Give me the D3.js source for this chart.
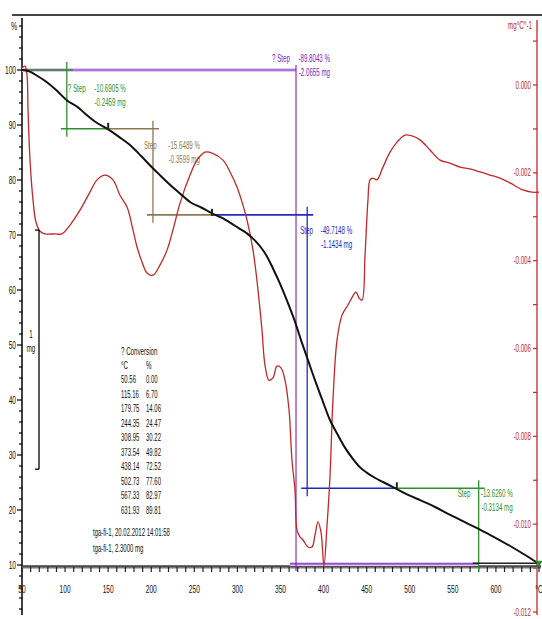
<!DOCTYPE html>
<html><head><meta charset="utf-8">
<script src="https://cdn.jsdelivr.net/npm/d3@7"></script>
<style>
html,body{margin:0;padding:0;background:#fff;}
svg{display:block;}
text{font-family:"Liberation Sans",Arial,sans-serif;}
</style></head><body>
<svg id="chart" width="542" height="619"></svg>
<script>
// TGA curve: temperature (°C) and remaining mass (%)
const tgaTemp = [50,55,59,67,77,90,102,115,123,135,150,163,175,188,199,210,222,233,245,258,271,281,291,301,311,319,326,334,341,349,358,366,374,382,390,399,407,416,425,434,442,450,458,470,485,500,512,530,547,565,582,600,616,632,648];
const tgaMass = [100,99.9,99.7,99.0,98.0,96.3,94.5,93.2,92.1,90.6,89.2,87.8,86.4,84.4,82.6,80.9,79.1,77.6,76.0,75.0,73.9,73.2,72.3,71.3,70.3,69.2,68.0,66.2,64.0,61.3,57.9,54.6,50.8,47.2,43.6,39.8,36.5,33.8,31.3,29.3,27.8,26.8,26.0,25.0,23.8,22.6,21.8,20.5,19.1,17.7,16.4,14.9,13.5,12.0,10.4];

// DTG curve: temperature (°C) and rate (mg/°C)
const dtgTemp = [50.0,53.5,55.8,57.0,59.3,62.8,66.2,70.9,76.7,88.3,96.4,105.7,117.3,128.9,137.0,146.3,155.6,163.7,171.9,178.8,183.5,189.3,195.1,202.0,210.1,218.3,225.2,233.4,245.0,253.1,262.4,270.5,283.3,291.4,299.5,305.3,311.1,318.1,323.9,328.5,332.0,336.6,341.3,345.9,350.6,355.2,359.9,363.3,366.8,369.1,372.6,376.1,381.9,386.5,390.0,393.5,397.0,400.4,403.9,407.4,410.9,415.6,421.4,428.3,434.1,437.6,441.1,444.6,448.1,451.5,453.9,457.3,462.0,468.9,477.1,485.2,494.5,502.6,511.9,523.5,535.1,546.7,558.3,569.9,581.5,593.1,604.7,616.3,631.4,641.9,650.0];
const dtgRate = [0.39e-3,0.43e-3,0.23e-3,-0.57e-3,-1.71e-3,-2.62e-3,-3.12e-3,-3.33e-3,-3.39e-3,-3.39e-3,-3.39e-3,-3.19e-3,-2.85e-3,-2.44e-3,-2.16e-3,-2.05e-3,-2.16e-3,-2.51e-3,-2.78e-3,-3.30e-3,-3.69e-3,-4.03e-3,-4.28e-3,-4.33e-3,-4.10e-3,-3.76e-3,-3.30e-3,-2.69e-3,-2.05e-3,-1.71e-3,-1.53e-3,-1.55e-3,-1.71e-3,-1.98e-3,-2.32e-3,-2.66e-3,-3.07e-3,-3.76e-3,-4.67e-3,-5.58e-3,-6.38e-3,-6.72e-3,-6.67e-3,-6.40e-3,-6.44e-3,-6.72e-3,-7.40e-3,-8.54e-3,-9.22e-3,-10.13e-3,-10.29e-3,-10.36e-3,-10.52e-3,-10.52e-3,-10.25e-3,-9.95e-3,-10.18e-3,-10.95e-3,-10.06e-3,-8.93e-3,-7.17e-3,-5.81e-3,-5.24e-3,-5.01e-3,-4.80e-3,-4.71e-3,-4.85e-3,-4.90e-3,-3.87e-3,-2.62e-3,-2.16e-3,-2.12e-3,-2.16e-3,-1.87e-3,-1.53e-3,-1.30e-3,-1.14e-3,-1.16e-3,-1.25e-3,-1.48e-3,-1.71e-3,-1.78e-3,-1.87e-3,-1.91e-3,-1.98e-3,-2.05e-3,-2.12e-3,-2.23e-3,-2.39e-3,-2.44e-3,-2.44e-3];

// Axis ticks
const tempTicks = [50,100,150,200,250,300,350,400,450,500,550,600,650];
const tempTickLabels = ["50","100","150","200","250","300","350","400","450","500","550","600","°C"];
const massTicks = [10,20,30,40,50,60,70,80,90,100];
const rateTicks = [0,-0.002,-0.004,-0.006,-0.008,-0.010,-0.012];
const rateTickLabels = ["0.000","-0.002","-0.004","-0.006","-0.008","-0.010","-0.012"];

// Step evaluations (mass change in % and mg, evaluation limits in °C)
const stepNames = ["? Step","Step","Step","Step","? Step"];
const stepPct = [-10.6905,-15.6489,-49.7148,-13.6260,-89.8043];
const stepMg = [-0.2459,-0.3599,-1.1434,-0.3134,-2.0655];
const stepLeftT = [50,150,270.5,485,50];
const stepMidT = [102,202,381,580,368];
const stepRightT = [150,270.5,485,650,579];

// Conversion table
const convTemp = ["50.56","115.16","179.75","244.35","308.95","373.54","438.14","502.73","567.33","631.93"];
const convPct = ["0.00","6.70","14.06","24.47","30.22","49.82","72.52","77.60","82.97","89.81"];

const sampleInfo = ["tga-fi-1, 20.02.2012 14:01:58","tga-fi-1, 2.3000 mg"];
const sampleMassMg = 2.3;

// ---- drawing ----
const svg = d3.select("#chart");
const RED = "#c0282a", GREEN = "#2f8f2f", BROWN = "#8b7a50", BLUE = "#2626c4", PURPLE = "#7d22b8", LAV = "#e2c8f2";
const stepColors = [GREEN, BROWN, BLUE, GREEN, PURPLE];

const x = d3.scaleLinear().domain([50,650]).range([22,539]);
const y = d3.scaleLinear().domain([0,100]).range([620,70]);
const r = d3.scaleLinear().domain([0,-0.012]).range([85,612]);

function label(g, px, py, s, o = {}) {
  return g.append("text")
    .attr("transform", `translate(${px},${py}) scale(${o.sx ?? 0.66},1)`)
    .attr("text-anchor", o.anchor || "start")
    .attr("dominant-baseline", "central")
    .attr("font-size", o.size || 10)
    .attr("fill", o.fill || "#111")
    .text(s);
}

function seg(g, x1, y1, x2, y2, color, w) {
  g.append("line").attr("x1",x1).attr("y1",y1).attr("x2",x2).attr("y2",y2)
    .attr("stroke",color).attr("stroke-width",w);
}

// top frame line
seg(svg, 12, 15, 542, 15, "#444", 2);

// left (mass) axis
const gl = svg.append("g");
seg(gl, 22, 18, 22, 615, "#000", 1.5);
const minorMass = d3.range(2,109,2);
gl.selectAll(".mt").data(minorMass).join("line")
  .attr("x1",d => d%10===0 ? 17 : 19).attr("x2",22).attr("y1",d=>y(d)).attr("y2",d=>y(d))
  .attr("stroke","#000").attr("stroke-width",1.2);
massTicks.forEach(d => label(gl, 16, y(d), String(d), {anchor:"end", size:11, sx:0.6}));
label(gl, 14, 27, "%", {anchor:"middle", size:10, sx:0.7});

// right (rate) axis
const gr = svg.append("g");
seg(gr, 537, 20, 537, 615, RED, 1.3);
const minorRate = d3.range(1,-14,-1).map(k => k/1000);
gr.selectAll(".rt").data(minorRate).join("line")
  .attr("x1",533).attr("x2",537).attr("y1",d=>r(d)).attr("y2",d=>r(d))
  .attr("stroke",RED).attr("stroke-width",1.2);
rateTicks.forEach((d,i) => label(gr, 531, r(d), rateTickLabels[i], {anchor:"end", size:10, sx:0.62, fill:RED}));
label(gr, 532, 25, "mg°C^-1", {anchor:"end", size:10, sx:0.62, fill:RED});

// bottom (temperature) axis
const gb = svg.append("g");
seg(gb, 22, 567, 541, 567, "#777", 3);
seg(gb, 22, 566, 541, 566, "#222", 1);
gb.selectAll(".xt").data(d3.range(50,651,10)).join("line")
  .attr("x1",d=>x(d)).attr("x2",d=>x(d)).attr("y1",567).attr("y2",572)
  .attr("stroke","#222").attr("stroke-width",1.2);
tempTicks.forEach((d,i) => label(gb, x(d), 589, tempTickLabels[i], {anchor:"middle", size:11, sx:0.6}));

// step evaluation levels: each step starts where the previous one ended; the total step spans all
const levels = [];
let cur = 100;
stepPct.forEach((p,i) => {
  const top = i === 4 ? 100 : cur;
  const bot = top + p;
  if (i !== 4) cur = bot;
  levels.push([top, bot]);
});

const gs = svg.append("g");
// total step, horizontal limits with a light halo
{
  const i = 4, [top, bot] = levels[i], c = stepColors[i];
  const xm = x(stepMidT[i]);
  const horiz = [[x(stepLeftT[i]), y(top), xm, y(top)], [xm-6, y(bot), x(stepRightT[i]), y(bot)]];
  horiz.forEach(s => seg(gs, s[0], s[1], s[2], s[3], LAV, 4));
  horiz.forEach(s => seg(gs, s[0], s[1], s[2], s[3], c, 1.2));
  seg(gs, xm, y(top)-5, xm, y(bot)+7, c, 1.1);
}
for (let i = 0; i < 4; i++) {
  const [top, bot] = levels[i], c = stepColors[i];
  const xm = x(stepMidT[i]);
  seg(gs, x(stepLeftT[i]), y(top), xm + 6, y(top), c, 1.6);
  seg(gs, xm, y(top) - 8, xm, y(bot) + 8, c, 1.3);
  seg(gs, xm - 6, y(bot), x(stepRightT[i]), y(bot), i === 3 ? "#222" : c, 1.6);
}

// step texts
const stepLabelDx = [1, -9, -7, -21, -24];
const stepValueDx = [59, 47, 45, 34, 34];
const stepLabelDy = [18, 17, 16, 5, -12];
for (let i = 0; i < 5; i++) {
  const [top] = levels[i], c = stepColors[i];
  const xm = x(stepMidT[i]), yt = y(top) + stepLabelDy[i];
  label(gs, xm + stepLabelDx[i], yt, stepNames[i], {fill:c, size:10, sx:0.62});
  label(gs, xm + stepValueDx[i], yt, `${stepPct[i].toFixed(4)} %`, {anchor:"end", fill:c, size:10, sx:0.62});
  label(gs, xm + stepValueDx[i], yt + 14, `${stepMg[i].toFixed(4)} mg`, {anchor:"end", fill:c, size:10, sx:0.62});
}

// DTG curve
const dtgLine = d3.line().x((d,i)=>x(dtgTemp[i])).y((d,i)=>r(dtgRate[i])).curve(d3.curveCatmullRom.alpha(0.5));
svg.append("path").attr("d", dtgLine(dtgTemp)).attr("fill","none").attr("stroke",RED).attr("stroke-width",1.3);

// TGA curve
const tgaLine = d3.line().x((d,i)=>x(tgaTemp[i])).y((d,i)=>y(tgaMass[i])).curve(d3.curveMonotoneX);
svg.append("path").attr("d", tgaLine(tgaTemp)).attr("fill","none").attr("stroke","#111").attr("stroke-width",2);

// step end markers on the curve
for (let i = 0; i < 3; i++) {
  const [, bot] = levels[i];
  seg(svg, x(stepRightT[i]), y(bot) - 6, x(stepRightT[i]), y(bot) + 1, "#222", 2);
}
svg.append("path")
  .attr("d", d3.symbol(d3.symbolTriangle, 22)())
  .attr("transform", `translate(${x(650)},${y(tgaMass[tgaMass.length-1])}) rotate(180)`)
  .attr("fill", GREEN);

// 1 mg scale bar
{
  const topMass = 70.9, botMass = topMass - 100 / sampleMassMg;
  const g = svg.append("g");
  seg(g, 39, y(topMass), 39, y(botMass), "#000", 1.3);
  seg(g, 35, y(topMass), 39, y(topMass), "#000", 1.3);
  seg(g, 35, y(botMass), 39, y(botMass), "#000", 1.3);
  label(g, 31, 334, "1", {anchor:"middle", size:10, sx:0.62});
  label(g, 31, 348, "mg", {anchor:"middle", size:10, sx:0.62});
}

// conversion table
{
  const g = svg.append("g");
  label(g, 121, 351, "? Conversion", {size:10, sx:0.62});
  label(g, 121, 365.5, "°C", {size:10, sx:0.62});
  label(g, 146, 365.5, "%", {size:10, sx:0.62});
  convTemp.forEach((t,i) => {
    const yy = 380 + i * 14.5;
    label(g, 121, yy, t, {size:10, sx:0.6});
    label(g, 146, yy, convPct[i], {size:10, sx:0.6});
  });
  label(g, 93, 533, sampleInfo[0], {size:10, sx:0.6});
  label(g, 93, 549, sampleInfo[1], {size:10, sx:0.6});
}
</script>
</body></html>
